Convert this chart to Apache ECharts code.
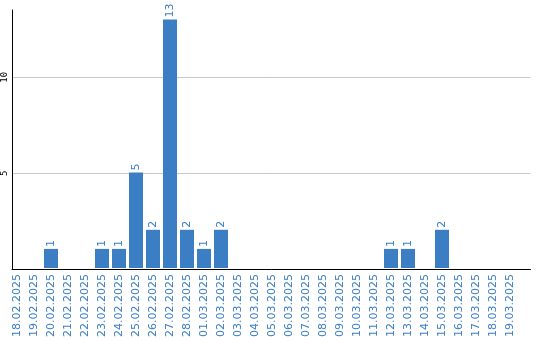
<!DOCTYPE html>
<html><head><meta charset="utf-8">
<script src="https://cdn.jsdelivr.net/npm/echarts@6/dist/echarts.min.js"></script>
<style>html,body{margin:0;padding:0;background:#fff}#c{width:540px;height:340px}</style>
</head><body><div id="c"></div>
<script>
const categories = ['18.02.2025','19.02.2025','20.02.2025','21.02.2025','22.02.2025','23.02.2025','24.02.2025','25.02.2025','26.02.2025','27.02.2025','28.02.2025','01.03.2025','02.03.2025','03.03.2025','04.03.2025','05.03.2025','06.03.2025','07.03.2025','08.03.2025','09.03.2025','10.03.2025','11.03.2025','12.03.2025','13.03.2025','14.03.2025','15.03.2025','16.03.2025','17.03.2025','18.03.2025','19.03.2025'];
const values = [0,0,1,0,0,1,1,5,2,13,2,1,2,0,0,0,0,0,0,0,0,0,1,1,0,2,0,0,0,0];
const yTicks = [5, 10];
const yMax = 13.5;

const blue = '#3b7ec4';
const chart = echarts.init(document.getElementById('c'), null, {renderer:'canvas'});
chart.setOption({
  animation: false,
  grid: [
    {left: 8.5, right: 21.5, top: 10, bottom: 70.5, containLabel: false},
    {left: 11, right: 9.5, top: 10, bottom: 70.5, containLabel: false}
  ],
  xAxis: [
    {
      type: 'category', data: categories, gridIndex: 0,
      axisLine: {show: false}, axisTick: {show: false},
      axisLabel: {rotate: 90, color: blue, fontSize: 11, fontFamily: 'DejaVu Sans', margin: 6, interval: 0}
    },
    {
      type: 'value', gridIndex: 1, min: 0, max: 1,
      axisLine: {show: true, lineStyle: {color: '#000', width: 1}},
      axisTick: {show: false}, axisLabel: {show: false}, splitLine: {show: false}
    }
  ],
  yAxis: [
    {type: 'value', gridIndex: 0, min: 0, max: yMax, show: false, splitLine: {show: false}},
    {
      type: 'value', gridIndex: 1, min: 0, max: yMax, interval: 5,
      axisLine: {show: true, lineStyle: {color: '#000', width: 1}},
      axisTick: {show: false},
      splitLine: {show: true, showMaxLine: false, showMinLine: false, lineStyle: {color: '#c8c8c8', width: 1}},
      axisLabel: {
        rotate: 90, fontSize: 9, color: '#000', fontFamily: 'DejaVu Sans Mono', margin: 3,
        showMaxLabel: false,
        formatter: v => yTicks.includes(v) ? String(v) : ''
      }
    }
  ],
  series: [{
    type: 'bar', data: values, xAxisIndex: 0, yAxisIndex: 0,
    barWidth: 14,
    itemStyle: {color: blue},
    label: {
      show: true, position: 'top', rotate: 90, align: 'left', verticalAlign: 'middle',
      distance: 2, color: blue, fontSize: 11, fontFamily: 'DejaVu Sans',
      formatter: p => p.value ? String(p.value) : ''
    }
  }]
});
</script></body></html>
